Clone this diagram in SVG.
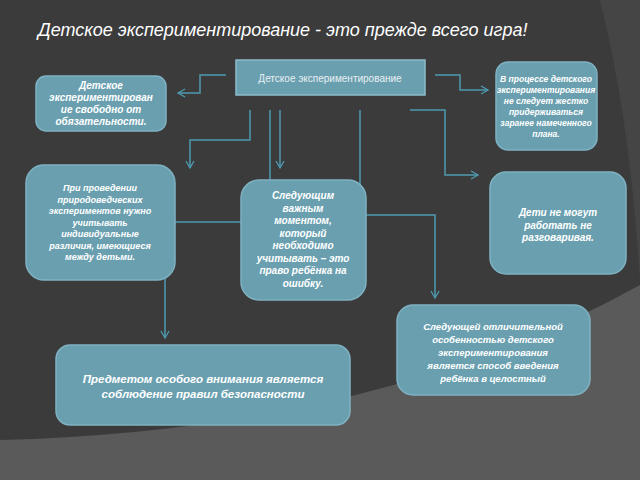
<svg xmlns="http://www.w3.org/2000/svg" width="640" height="480" viewBox="0 0 640 480">
<defs>
<style>
.b{fill:#6a9fb0;stroke:#7fb2c2;stroke-width:1.5}
.t{font-family:"Liberation Sans",Arial,sans-serif;font-style:italic;font-weight:bold;fill:#fff;text-anchor:middle;font-size:10px}
.c{fill:none;stroke:#4f9ab0;stroke-width:1.5}
</style>
<marker id="a" markerWidth="10" markerHeight="10" refX="8" refY="5" orient="auto" markerUnits="userSpaceOnUse"><path d="M1,1 L8,5 L1,9" fill="none" stroke="#4f9ab0" stroke-width="1.3"/></marker>
</defs>
<rect width="640" height="480" fill="#3b3b3b"/>
<path d="M0,440 Q380,430 640,285 L640,480 L0,480 Z" fill="#5a5a5a"/>
<path d="M600,0 L640,0 L640,280 Q630,120 600,0 Z" fill="#454545"/>
<text x="38" y="36" font-family="Liberation Sans,Arial,sans-serif" font-style="italic" font-size="18" fill="#fff">Детское экспериментирование - это прежде всего игра!</text>
<g id="connectors">
<path class="c" marker-end="url(#a)" d="M226,75 H200 V93 H178"/>
<path class="c" marker-end="url(#a)" d="M435,75 H460 V90 H488"/>
<path class="c" marker-end="url(#a)" d="M250,110 V140 H190 V168"/>
<path class="c" marker-end="url(#a)" d="M270,110 V222 H165 V338"/>
<path class="c" marker-end="url(#a)" d="M280,110 V168"/>
<path class="c" marker-end="url(#a)" d="M360,110 V215 H435 V298"/>
<path class="c" marker-end="url(#a)" d="M410,110 H445 V175 H478"/>
</g>
<g id="top"><rect class="b" x="236" y="60" width="189" height="35" style="stroke:#8cbccb"/><text x="330" y="82" font-family="Liberation Sans,Arial,sans-serif" font-size="10" fill="#e8f0f2" text-anchor="middle">Детское экспериментирование</text></g>
<g id="n1"><rect class="b" x="36" y="76" width="130" height="55" rx="10"/><text class="t" y="89"><tspan x="101">Детское</tspan><tspan x="101" dy="12">экспериментирован</tspan><tspan x="101" dy="12">ие свободно от</tspan><tspan x="101" dy="12">обязательности.</tspan></text></g>
<g id="n2"><rect class="b" x="496" y="62" width="101" height="88" rx="12"/><text class="t" style="font-size:8.5px" y="82"><tspan x="546">В процессе детского</tspan><tspan x="546" dy="11">экспериментирования</tspan><tspan x="546" dy="11">не следует жестко</tspan><tspan x="546" dy="11">придерживаться</tspan><tspan x="546" dy="11">заранее намеченного</tspan><tspan x="546" dy="11">плана.</tspan></text></g>
<g id="n3"><rect class="b" x="26" y="165" width="149" height="115" rx="18"/><text class="t" style="font-size:9px" y="191"><tspan x="100">При проведении</tspan><tspan x="100" dy="11.5">природоведческих</tspan><tspan x="100" dy="11.5">экспериментов нужно</tspan><tspan x="100" dy="11.5">учитывать</tspan><tspan x="100" dy="11.5">индивидуальные</tspan><tspan x="100" dy="11.5">различия,  имеющиеся</tspan><tspan x="100" dy="11.5">между детьми.</tspan></text></g>
<g id="n4"><rect class="b" x="241" y="180" width="125" height="120" rx="18"/><text class="t" y="199"><tspan x="303">Следующим</tspan><tspan x="303" dy="12.5">важным</tspan><tspan x="303" dy="12.5">моментом,</tspan><tspan x="303" dy="12.5">который</tspan><tspan x="303" dy="12.5">необходимо</tspan><tspan x="303" dy="12.5">учитывать – это</tspan><tspan x="303" dy="12.5">право ребёнка на</tspan><tspan x="303" dy="12.5">ошибку.</tspan></text></g>
<g id="n5"><rect class="b" x="490" y="172" width="136" height="102" rx="16"/><text class="t" y="216"><tspan x="558">Дети не могут</tspan><tspan x="558" dy="12.5">работать не</tspan><tspan x="558" dy="12.5">разговаривая.</tspan></text></g>
<g id="n6"><rect class="b" x="56" y="345" width="294" height="80" rx="14"/><text class="t" style="font-size:11.5px" y="383"><tspan x="203">Предметом особого внимания является</tspan><tspan x="203" dy="15">соблюдение правил безопасности</tspan></text></g>
<g id="n7"><rect class="b" x="397" y="305" width="193" height="90" rx="16"/><text class="t" style="font-size:9.5px" y="330"><tspan x="493">Следующей отличительной</tspan><tspan x="493" dy="13">особенностью детского</tspan><tspan x="493" dy="13">экспериментирования</tspan><tspan x="493" dy="13">является способ введения</tspan><tspan x="493" dy="13">ребёнка в целостный</tspan></text></g>
</svg>
